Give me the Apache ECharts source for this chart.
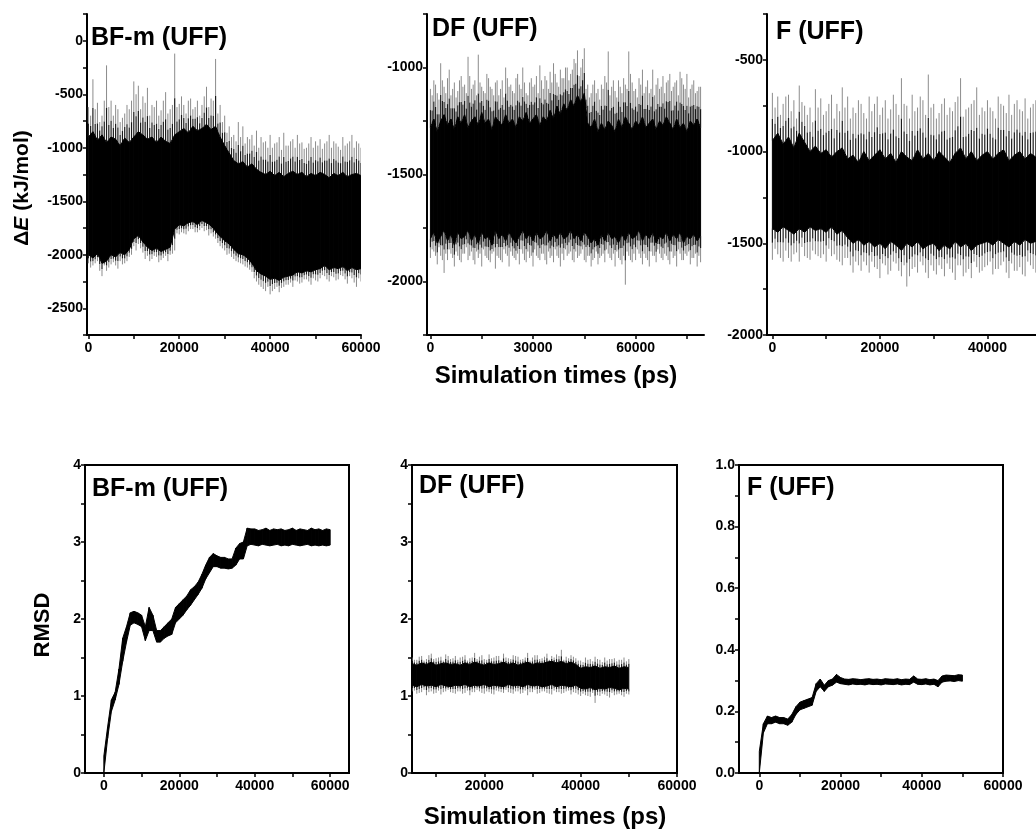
<!DOCTYPE html>
<html>
<head>
<meta charset="utf-8">
<script src="https://cdn.jsdelivr.net/npm/echarts@6/dist/echarts.min.js"></script>
<style>html,body{margin:0;padding:0;background:#fff}#c{width:1036px;height:836px}</style>
</head>
<body>
<div id="c"></div>
<script>
// Energy panels: dense band (lo/hi), gray spike extremes at each sample (spikeLo/spikeHi)
// and extra spike extremes half-way between samples (midSpikeLo/midSpikeHi)
const bfmStart = 0, bfmStep = 1000;
const bfmHi = [-900,-850,-930,-880,-950,-900,-920,-980,-910,-950,
  -900,-850,-880,-920,-900,-950,-900,-940,-960,-880,
  -850,-820,-860,-800,-840,-820,-780,-830,-800,-900,
  -980,-1050,-1120,-1150,-1130,-1180,-1150,-1200,-1230,-1250,
  -1220,-1260,-1230,-1270,-1240,-1220,-1250,-1230,-1270,-1240,
  -1260,-1230,-1250,-1280,-1240,-1260,-1230,-1270,-1250,-1240,-1260];
const bfmSpikeHi = [-620,-360,-580,-700,-230,-560,-600,-760,-680,-640,
  -380,-420,-520,-440,-600,-560,-650,-480,-640,-120,
  -590,-600,-560,-640,-560,-600,-430,-540,-170,-600,
  -700,-800,-880,-760,-800,-900,-880,-840,-900,-940,
  -880,-960,-900,-860,-980,-920,-880,-950,-1000,-900,
  -940,-920,-960,-880,-940,-990,-900,-960,-880,-940,-1000];
const bfmMidSpikeHi = [-700,-640,-760,-560,-620,-700,-640,-720,-600,-560,
  -500,-640,-580,-700,-620,-700,-560,-680,-600,-620,
  -520,-680,-540,-620,-700,-520,-620,-560,-680,-760,
  -860,-900,-940,-900,-960,-920,-980,-1000,-950,-1000,
  -1000,-950,-1020,-980,-940,-1000,-960,-1010,-960,-1000,
  -980,-1010,-940,-1000,-960,-1020,-980,-940,-1000,-960];
const bfmLo = [-2000,-2030,-1990,-2080,-2060,-2000,-2020,-1980,-2000,-1950,
  -1850,-1820,-1880,-1930,-1960,-1940,-1970,-1950,-1930,-1760,
  -1720,-1730,-1700,-1690,-1720,-1680,-1700,-1730,-1780,-1830,
  -1870,-1900,-1950,-1990,-2000,-2030,-2080,-2150,-2180,-2200,
  -2230,-2220,-2240,-2210,-2200,-2190,-2160,-2170,-2150,-2160,
  -2140,-2130,-2100,-2140,-2120,-2130,-2110,-2150,-2120,-2140,-2130];
const bfmSpikeLo = [-2080,-2100,-2060,-2200,-2150,-2090,-2100,-2060,-2080,-2020,
  -1920,-1900,-1980,-2010,-2040,-2020,-2050,-2010,-2000,-1960,
  -1810,-1800,-1780,-1760,-1790,-1750,-1770,-1800,-1850,-1920,
  -1960,-1990,-2040,-2070,-2090,-2120,-2160,-2250,-2300,-2340,
  -2370,-2320,-2350,-2300,-2280,-2300,-2250,-2260,-2230,-2280,
  -2240,-2220,-2200,-2250,-2210,-2230,-2200,-2270,-2220,-2300,-2250];
const bfmMidSpikeLo = [-2120,-2080,-2150,-2100,-2120,-2070,-2130,-2090,-2060,-2000,
  -1960,-1940,-2040,-2060,-2010,-2070,-2030,-2060,-1990,-1800,
  -1790,-1810,-1760,-1790,-1770,-1780,-1820,-1830,-1890,-1940,
  -2000,-2020,-2060,-2080,-2110,-2140,-2220,-2280,-2320,-2300,
  -2340,-2300,-2310,-2280,-2260,-2240,-2270,-2230,-2250,-2220,
  -2250,-2190,-2230,-2200,-2240,-2190,-2230,-2200,-2260,-2220];

const dfStart = 0, dfStep = 1000;
const dfHi = [-1280,-1240,-1300,-1250,-1220,-1270,-1240,-1290,-1230,-1260,
  -1220,-1280,-1250,-1230,-1270,-1210,-1260,-1240,-1290,-1230,
  -1250,-1270,-1220,-1260,-1240,-1280,-1230,-1250,-1210,-1260,
  -1240,-1220,-1270,-1230,-1250,-1200,-1240,-1180,-1220,-1170,
  -1200,-1150,-1180,-1130,-1160,-1120,-1260,-1280,-1240,-1300,
  -1260,-1290,-1250,-1270,-1300,-1240,-1280,-1230,-1260,-1290,
  -1250,-1270,-1230,-1280,-1260,-1240,-1290,-1250,-1270,-1230,
  -1260,-1290,-1240,-1280,-1260,-1300,-1250,-1270,-1240,-1280];
const dfSpikeHi = [-1100,-1060,-1120,-980,-1090,-1050,-1130,-1070,-1110,-1040,
  -1080,-950,-1100,-1060,-940,-1090,-1120,-1050,-1100,-1070,
  -1130,-1060,-1000,-1090,-1110,-1050,-1080,-1000,-1120,-1070,
  -1090,-1040,-990,-1100,-1060,-1020,-980,-1070,-1010,-1050,
  -1000,-1030,-960,-920,-1000,-910,-1080,-1120,-1060,-1100,
  -1080,-1040,-925,-1090,-1110,-1060,-1120,-1080,-925,-1070,
  -1100,-1050,-1010,-1090,-1120,-1010,-1080,-1100,-1040,-1070,
  -1030,-1090,-1060,-1020,-1080,-1030,-1100,-1060,-1110,-1090];
const dfMidSpikeHi = [-1130,-1080,-1150,-1060,-1120,-1010,-1100,-1140,-1060,-1090,
  -1120,-1040,-1080,-1130,-1070,-1110,-1030,-1090,-1130,-1060,
  -1100,-1140,-1050,-1080,-1120,-1030,-1100,-1070,-1130,-1050,
  -1080,-1120,-1060,-1040,-1100,-1070,-1030,-1090,-1050,-1000,
  -1060,-1010,-980,-1040,-960,-1100,-1140,-1080,-1120,-1150,
  -1100,-1070,-1130,-1060,-1140,-1090,-1050,-1100,-1030,-1110,
  -1140,-1080,-1120,-1060,-1100,-1130,-1050,-1090,-1120,-1060,
  -1110,-1070,-1130,-1050,-1100,-1140,-1080,-1120,-1090];
const dfLo = [-1800,-1770,-1820,-1790,-1760,-1810,-1780,-1830,-1770,-1800,
  -1790,-1760,-1810,-1780,-1820,-1770,-1800,-1790,-1830,-1760,
  -1800,-1780,-1810,-1770,-1800,-1820,-1790,-1760,-1800,-1780,
  -1810,-1770,-1800,-1790,-1760,-1810,-1780,-1800,-1770,-1800,
  -1790,-1760,-1800,-1780,-1810,-1770,-1790,-1820,-1800,-1830,
  -1780,-1810,-1770,-1800,-1790,-1820,-1780,-1810,-1770,-1800,
  -1790,-1760,-1810,-1780,-1800,-1770,-1820,-1790,-1800,-1770,
  -1810,-1780,-1800,-1770,-1820,-1790,-1800,-1780,-1810,-1790];
const dfSpikeLo = [-1890,-1860,-1920,-1880,-1960,-1900,-1870,-1930,-1880,-1910,
  -1870,-1900,-1860,-1920,-1890,-1930,-1880,-1900,-1870,-1940,
  -1890,-1910,-1870,-1930,-1880,-1900,-1920,-1870,-1910,-1890,
  -1930,-1880,-1900,-1870,-1920,-1890,-1910,-1880,-1930,-1900,
  -1880,-1860,-1910,-1890,-1870,-1900,-1880,-1930,-1890,-1920,
  -1880,-1910,-1870,-1900,-1930,-1890,-1920,-2015,-1880,-1910,
  -1900,-1870,-1920,-1890,-1930,-1880,-1910,-1870,-1900,-1880,
  -1920,-1890,-1930,-1870,-1900,-1880,-1920,-1890,-1930,-1910];
const dfMidSpikeLo = [-1850,-1880,-1840,-1900,-1870,-1850,-1890,-1860,-1900,-1870,
  -1840,-1880,-1900,-1860,-1870,-1850,-1890,-1910,-1860,-1880,
  -1900,-1850,-1880,-1860,-1890,-1870,-1850,-1900,-1860,-1880,
  -1850,-1890,-1870,-1900,-1860,-1880,-1850,-1890,-1870,-1850,
  -1870,-1900,-1860,-1880,-1850,-1910,-1880,-1900,-1860,-1890,
  -1870,-1850,-1890,-1870,-1860,-1900,-1880,-1860,-1900,-1870,
  -1850,-1890,-1870,-1900,-1860,-1880,-1850,-1890,-1870,-1900,
  -1860,-1880,-1850,-1900,-1870,-1860,-1890,-1870,-1880];

const fStart = 0, fStep = 1000;
const fHi = [-940,-900,-960,-920,-980,-900,-950,-1000,-970,-1010,
  -990,-1030,-1000,-980,-1040,-1020,-1060,-1000,-1050,-1020,
  -990,-1040,-1010,-1060,-1000,-1030,-1050,-990,-1040,-1010,
  -1050,-1000,-1030,-1060,-1010,-980,-1040,-1000,-1050,-1020,
  -1000,-1040,-1010,-990,-1050,-1020,-1000,-1040,-1010,-1030,-1020];
const fSpikeHi = [-680,-700,-740,-690,-720,-640,-750,-760,-660,-710,
  -780,-690,-740,-650,-700,-760,-720,-790,-700,-740,
  -800,-720,-770,-740,-600,-750,-690,-760,-720,-580,
  -740,-790,-710,-760,-730,-600,-770,-740,-650,-760,
  -720,-780,-700,-750,-690,-740,-770,-710,-760,-720,-740];
const fMidSpikeHi = [-760,-800,-700,-780,-820,-730,-800,-840,-760,-800,
  -740,-820,-780,-760,-820,-790,-740,-820,-780,-700,
  -760,-820,-690,-800,-740,-820,-780,-700,-800,-760,
  -820,-740,-800,-780,-700,-810,-760,-720,-800,-780,
  -760,-820,-740,-790,-800,-720,-780,-820,-740,-790];
const fLo = [-1420,-1440,-1410,-1430,-1450,-1420,-1440,-1410,-1430,-1420,
  -1440,-1410,-1450,-1430,-1470,-1500,-1480,-1510,-1490,-1520,
  -1500,-1530,-1490,-1510,-1540,-1500,-1520,-1490,-1530,-1510,
  -1500,-1540,-1510,-1530,-1490,-1520,-1500,-1540,-1510,-1500,
  -1490,-1510,-1480,-1500,-1520,-1490,-1510,-1480,-1500,-1490,-1500];
const fSpikeLo = [-1590,-1560,-1600,-1580,-1560,-1600,-1570,-1590,-1560,-1580,
  -1600,-1570,-1590,-1620,-1580,-1660,-1620,-1600,-1660,-1630,
  -1690,-1620,-1650,-1610,-1680,-1736,-1640,-1660,-1620,-1690,
  -1650,-1620,-1680,-1640,-1700,-1620,-1660,-1690,-1630,-1650,
  -1620,-1670,-1640,-1600,-1690,-1650,-1630,-1680,-1620,-1660,-1640];
const fMidSpikeLo = [-1530,-1580,-1540,-1600,-1550,-1520,-1580,-1540,-1570,-1560,
  -1530,-1560,-1600,-1580,-1620,-1600,-1650,-1620,-1600,-1640,
  -1610,-1670,-1600,-1650,-1620,-1680,-1630,-1600,-1660,-1620,
  -1670,-1640,-1610,-1660,-1620,-1680,-1640,-1600,-1660,-1630,
  -1600,-1640,-1620,-1660,-1610,-1650,-1670,-1600,-1640,-1620];

// RMSD panels
const bfmrStart = 0, bfmrStep = 1000;
const bfmrLo = [0.00,0.45,0.80,0.95,1.15,1.45,1.70,1.92,1.95,1.93,
  1.90,1.72,1.85,1.85,1.70,1.70,1.75,1.78,1.80,1.95,
  2.00,2.05,2.12,2.18,2.25,2.32,2.40,2.52,2.60,2.68,
  2.68,2.66,2.66,2.65,2.66,2.70,2.78,2.78,2.95,2.97,
  2.96,2.95,2.97,2.96,2.95,2.96,2.97,2.95,2.96,2.95,
  2.97,2.96,2.95,2.96,2.97,2.95,2.96,2.95,2.96,2.95,2.96];
const bfmrHi = [0.22,0.60,0.95,1.05,1.35,1.75,1.90,2.08,2.10,2.08,
  2.05,1.90,2.15,2.05,1.85,1.85,1.90,1.95,2.00,2.15,
  2.20,2.25,2.30,2.38,2.42,2.48,2.58,2.70,2.80,2.85,
  2.82,2.80,2.80,2.78,2.78,2.92,2.98,3.00,3.18,3.17,
  3.17,3.15,3.16,3.18,3.15,3.17,3.16,3.17,3.15,3.16,
  3.18,3.15,3.17,3.16,3.15,3.18,3.16,3.17,3.15,3.17,3.16];

const dfrStart = 5000, dfrStep = 1000;
const dfrLo = [1.14,1.12,1.15,1.13,1.14,1.12,1.15,1.13,1.12,1.14,
  1.13,1.15,1.12,1.14,1.13,1.15,1.12,1.14,1.13,1.12,
  1.15,1.13,1.14,1.12,1.15,1.13,1.14,1.12,1.13,1.15,
  1.12,1.14,1.13,1.12,1.14,1.10,1.09,1.11,1.08,1.10,
  1.09,1.11,1.10,1.08,1.10,1.09];
const dfrHi = [1.42,1.40,1.43,1.41,1.44,1.40,1.42,1.43,1.41,1.42,
  1.40,1.43,1.41,1.44,1.42,1.40,1.43,1.41,1.42,1.44,
  1.41,1.43,1.40,1.42,1.44,1.41,1.43,1.42,1.44,1.45,
  1.43,1.45,1.42,1.44,1.41,1.36,1.38,1.37,1.39,1.36,
  1.38,1.37,1.39,1.36,1.38,1.37];
const dfrSpikeHi = [1.50,1.47,1.52,1.48,1.55,1.49,1.51,1.54,1.48,1.52,
  1.50,1.53,1.49,1.56,1.51,1.48,1.54,1.50,1.52,1.55,
  1.49,1.53,1.51,1.48,1.56,1.50,1.53,1.49,1.55,1.52,
  1.54,1.60,1.51,1.53,1.49,1.46,1.50,1.48,1.51,1.47,
  1.50,1.48,1.49,1.47,1.50,1.48];
const dfrMidSpikeHi = [1.47,1.51,1.46,1.53,1.48,1.50,1.46,1.52,1.49,1.47,
  1.51,1.46,1.50,1.48,1.53,1.47,1.49,1.52,1.46,1.50,
  1.48,1.52,1.47,1.50,1.46,1.53,1.48,1.51,1.47,1.50,
  1.52,1.47,1.49,1.51,1.46,1.44,1.47,1.45,1.48,1.44,
  1.46,1.48,1.45,1.47,1.45];
const dfrSpikeLo = [1.06,1.03,1.05,1.01,1.06,1.04,1.02,1.06,1.05,1.03,
  1.06,1.04,1.01,1.05,1.06,1.03,1.05,1.02,1.06,1.04,
  1.05,1.03,1.06,1.04,1.01,1.05,1.03,1.06,1.04,1.02,
  1.05,1.03,1.06,1.02,1.04,1.00,1.01,0.99,0.91,1.00,
  1.02,0.98,1.01,1.03,0.99,1.02];
const dfrMidSpikeLo = [1.07,1.04,1.08,1.05,1.03,1.07,1.05,1.08,1.04,1.06,
  1.03,1.07,1.05,1.08,1.04,1.06,1.03,1.07,1.05,1.08,
  1.04,1.06,1.03,1.07,1.05,1.08,1.04,1.06,1.03,1.07,
  1.05,1.04,1.07,1.05,1.02,1.03,1.00,1.04,1.01,1.03,
  1.00,1.04,1.02,1.01,1.03];

const frStart = 0, frStep = 1000;
const frLo = [0.000,0.130,0.160,0.160,0.165,0.160,0.160,0.155,0.165,0.190,
  0.205,0.210,0.215,0.220,0.265,0.280,0.265,0.280,0.285,0.295,
  0.290,0.288,0.286,0.289,0.287,0.288,0.286,0.289,0.287,0.288,
  0.286,0.289,0.288,0.287,0.289,0.286,0.288,0.287,0.295,0.288,
  0.287,0.289,0.286,0.288,0.280,0.295,0.298,0.299,0.297,0.300,0.298];
const frHi = [0.070,0.160,0.185,0.180,0.185,0.180,0.180,0.175,0.190,0.215,
  0.230,0.235,0.240,0.245,0.290,0.305,0.285,0.300,0.305,0.320,
  0.310,0.305,0.304,0.306,0.305,0.303,0.305,0.306,0.304,0.305,
  0.303,0.306,0.305,0.304,0.306,0.303,0.305,0.304,0.315,0.305,
  0.304,0.306,0.303,0.305,0.300,0.315,0.318,0.317,0.316,0.319,0.318];

// Axis ticks & labels
const bfmYTicks = [-2750,-2500,-2250,-2000,-1750,-1500,-1250,-1000,-750,-500,-250,0,250];
const bfmYLabels = [-2500,-2000,-1500,-1000,-500,0];
const dfYTicks = [-2250,-2000,-1750,-1500,-1250,-1000,-750];
const dfYLabels = [-2000,-1500,-1000];
const fYTicks = [-2000,-1750,-1500,-1250,-1000,-750,-500,-250];
const fYLabels = [-2000,-1500,-1000,-500];
const xTicks10k = [0,10000,20000,30000,40000,50000,60000];
const xLabels20k = [0,20000,40000,60000];
const dfXTicks = [0,15000,30000,45000,60000,75000];
const dfXLabels = [0,30000,60000];
const dfrXTicks = [10000,20000,30000,40000,50000,60000];
const dfrXLabels = [20000,40000,60000];
const rmsdYTicks = [0,0.5,1,1.5,2,2.5,3,3.5,4];
const rmsdYLabels = [0,1,2,3,4];
const frYTicks = [0,0.1,0.2,0.3,0.4,0.5,0.6,0.7,0.8,0.9,1.0];
const frYLabels = [0,0.2,0.4,0.6,0.8,1.0];

const titles = ['BF-m (UFF)','DF (UFF)','F (UFF)','BF-m (UFF)','DF (UFF)','F (UFF)'];
const xTitle = 'Simulation times (ps)';

// ---------- BUILD ----------
const FF = "'Liberation Sans', Arial, sans-serif";
function rows(start, step, lo, hi, sLo, sHi, mLo, mHi) {
  return lo.map((v, i) => [start + i * step, v, hi[i],
    sLo ? sLo[i] : v, sHi ? sHi[i] : hi[i],
    (mLo && i < mLo.length) ? mLo[i] : NaN, (mHi && i < mHi.length) ? mHi[i] : NaN]);
}
function spike(ch, api, t, edge, tip, edgeY) {
  const a = api.coord([t, edge]), b = api.coord([t, tip]);
  const ay = edgeY !== undefined ? edgeY : a[1];
  const my = ay + (b[1] - ay) * 0.45;
  ch.push({type: 'line', shape: {x1: a[0], y1: my, x2: b[0], y2: b[1]}, style: {stroke: '#8c8c8c', lineWidth: 1}});
  ch.push({type: 'line', shape: {x1: a[0], y1: ay, x2: b[0], y2: my}, style: {stroke: '#1a1a1a', lineWidth: 1.2}});
}
function bandRender(params, api) {
  const i = params.dataIndexInside, n = params.dataInsideLength;
  const t = api.value(0), lo = api.value(1), hi = api.value(2), sLo = api.value(3), sHi = api.value(4);
  const mLo = api.value(5), mHi = api.value(6);
  const ch = [];
  if (sHi > hi) spike(ch, api, t, hi, sHi);
  if (sLo < lo) spike(ch, api, t, lo, sLo);
  if (i < n - 1) {
    const t2 = api.value(0, i + 1), lo2 = api.value(1, i + 1), hi2 = api.value(2, i + 1);
    const p1 = api.coord([t, hi]), p2 = api.coord([t2, hi2]), p3 = api.coord([t2, lo2]), p4 = api.coord([t, lo]);
    const tm = (t + t2) / 2, xm = (p1[0] + p2[0]) / 2;
    if (!isNaN(mHi)) spike(ch, api, tm, (hi + hi2) / 2, mHi, (p1[1] + p2[1]) / 2);
    if (!isNaN(mLo)) spike(ch, api, tm, (lo + lo2) / 2, mLo, (p3[1] + p4[1]) / 2);
    ch.push({type: 'polygon', shape: {points: [p1, p2, p3, p4]},
      style: {fill: '#000', stroke: '#000', lineWidth: 1}});
  }
  return {type: 'group', children: ch};
}
function mkX(gi, min, max, ticks, labels) {
  return {type: 'value', gridIndex: gi, min, max,
    axisLine: {show: true, onZero: false, lineStyle: {color: '#000', width: 2}},
    axisTick: {show: true, inside: false, length: 4, customValues: ticks, lineStyle: {color: '#000', width: 1.5}},
    axisLabel: {customValues: labels, color: '#000', fontWeight: 'bold', fontSize: 14, fontFamily: FF, margin: 6,
      formatter: v => String(v), hideOverlap: false},
    splitLine: {show: false}};
}
function mkY(gi, min, max, ticks, labels, fmt) {
  return {type: 'value', gridIndex: gi, min, max,
    axisLine: {show: true, onZero: false, lineStyle: {color: '#000', width: 2}},
    axisTick: {show: true, inside: false, length: 4, customValues: ticks, lineStyle: {color: '#000', width: 1.5}},
    axisLabel: {customValues: labels, color: '#000', fontWeight: 'bold', fontSize: 14, fontFamily: FF, margin: 4,
      formatter: fmt || (v => String(v))},
    splitLine: {show: false}};
}
const gb = {outerBoundsMode: 'none', containLabel: false};
const grids = [
  Object.assign({left: 87, top: 14, width: 274, height: 321}, gb),
  Object.assign({left: 427, top: 14, width: 277, height: 321}, gb),
  Object.assign({left: 767, top: 14, width: 328, height: 321}, gb),
  Object.assign({left: 85, top: 465, width: 264, height: 308, show: true, borderColor: '#000', borderWidth: 2}, gb),
  Object.assign({left: 412, top: 465, width: 265, height: 308, show: true, borderColor: '#000', borderWidth: 2}, gb),
  Object.assign({left: 739, top: 465, width: 264, height: 308, show: true, borderColor: '#000', borderWidth: 2}, gb)
];
const xAxes = [
  mkX(0, -300, 60000, xTicks10k, xLabels20k),
  mkX(1, -1000, 80000, dfXTicks, dfXLabels),
  mkX(2, -1000, 60000, xTicks10k, xLabels20k),
  mkX(3, -5000, 65000, xTicks10k, xLabels20k),
  mkX(4, 5000, 60000, dfrXTicks, dfrXLabels),
  mkX(5, -5000, 60000, xTicks10k, xLabels20k)
];
const yAxes = [
  mkY(0, -2750, 250, bfmYTicks, bfmYLabels),
  mkY(1, -2250, -750, dfYTicks, dfYLabels),
  mkY(2, -2000, -250, fYTicks, fYLabels),
  mkY(3, 0, 4, rmsdYTicks, rmsdYLabels),
  mkY(4, 0, 4, rmsdYTicks, rmsdYLabels),
  mkY(5, 0, 1, frYTicks, frYLabels, v => v.toFixed(1))
];
const datasets = [
  rows(bfmStart, bfmStep, bfmLo, bfmHi, bfmSpikeLo, bfmSpikeHi, bfmMidSpikeLo, bfmMidSpikeHi),
  rows(dfStart, dfStep, dfLo, dfHi, dfSpikeLo, dfSpikeHi, dfMidSpikeLo, dfMidSpikeHi),
  rows(fStart, fStep, fLo, fHi, fSpikeLo, fSpikeHi, fMidSpikeLo, fMidSpikeHi),
  rows(bfmrStart, bfmrStep, bfmrLo, bfmrHi),
  rows(dfrStart, dfrStep, dfrLo, dfrHi, dfrSpikeLo, dfrSpikeHi, dfrMidSpikeLo, dfrMidSpikeHi),
  rows(frStart, frStep, frLo, frHi)
];
const series = datasets.map((d, k) => ({
  type: 'custom', xAxisIndex: k, yAxisIndex: k, data: d, renderItem: bandRender, clip: true,
  encode: {x: 0, y: [1, 2]}, silent: true
}));
const titlePos = [[91, 38], [432, 29], [776, 32], [92, 489], [419, 486], [747, 488]];
const graphic = titles.map((t, k) => ({type: 'text', x: titlePos[k][0], y: titlePos[k][1], z: 10,
  style: {text: t, fill: '#000', font: "bold 25px " + FF, textAlign: 'left', textVerticalAlign: 'middle'}}));
graphic.push({type: 'text', x: 556, y: 376, style: {text: xTitle, fill: '#000', font: 'bold 24px ' + FF, textAlign: 'center', textVerticalAlign: 'middle'}});
graphic.push({type: 'text', x: 545, y: 817, style: {text: xTitle, fill: '#000', font: 'bold 24px ' + FF, textAlign: 'center', textVerticalAlign: 'middle'}});
graphic.push({type: 'text', x: 22, y: 188, rotation: Math.PI / 2,
  style: {text: '{a|Δ}{b|E}{a| (kJ/mol)}', fill: '#000', textAlign: 'center', textVerticalAlign: 'middle',
    rich: {a: {fontSize: 21, fontWeight: 'bold', fontFamily: FF, fill: '#000'}, b: {fontSize: 21, fontWeight: 'bold', fontStyle: 'italic', fontFamily: FF, fill: '#000'}}}});
graphic.push({type: 'text', x: 43, y: 625, rotation: Math.PI / 2,
  style: {text: 'RMSD', fill: '#000', font: 'bold 22px ' + FF, textAlign: 'center', textVerticalAlign: 'middle'}});

const chart = echarts.init(document.getElementById('c'), null, {renderer: 'canvas'});
chart.setOption({animation: false, backgroundColor: '#fff', grid: grids, xAxis: xAxes, yAxis: yAxes, series, graphic});
</script>
</body>
</html>
